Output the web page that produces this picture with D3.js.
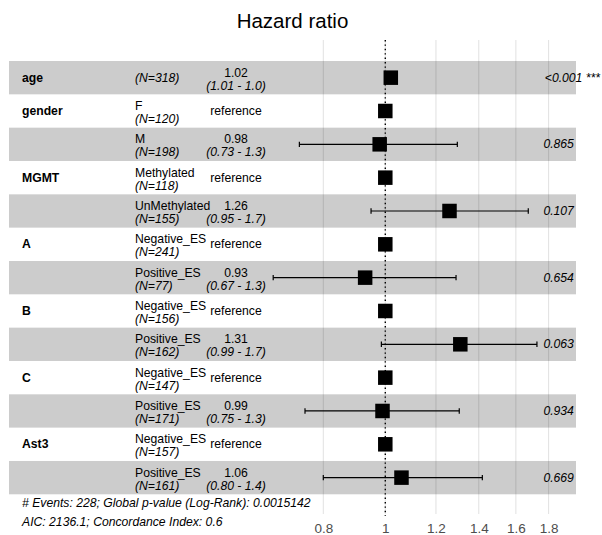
<!DOCTYPE html>
<html>
<head>
<meta charset="utf-8">
<script src="https://cdn.jsdelivr.net/npm/d3@7"></script>
<style>
  body { margin: 0; background: #fff; }
  text { font-family: "Liberation Sans", Arial, sans-serif; }
</style>
</head>
<body>
<svg id="chart" width="602" height="535"></svg>
<script>
// Cox model summary: one entry per table row
const variables = ["age", "gender", "", "MGMT", "", "A", "", "B", "", "C", "", "Ast3", ""];
const levels = ["", "F", "M", "Methylated", "UnMethylated", "Negative_ES", "Positive_ES",
                "Negative_ES", "Positive_ES", "Negative_ES", "Positive_ES", "Negative_ES", "Positive_ES"];
const counts = [318, 120, 198, 118, 155, 241, 77, 156, 162, 147, 171, 157, 161];
const hazardRatios = [1.02, 1, 0.98, 1, 1.26, 1, 0.93, 1, 1.31, 1, 0.99, 1, 1.06];
const ciLower = [1.01, null, 0.734, null, 0.95, null, 0.668, null, 0.986, null, 0.749, null, 0.80];
const ciUpper = [1.03, null, 1.296, null, 1.673, null, 1.29, null, 1.726, null, 1.305, null, 1.418];
const pLabels = ["<0.001 ***", "", "0.865", "", "0.107", "", "0.654", "", "0.063", "", "0.934", "", "0.669"];
const tickValues = [0.8, 1, 1.2, 1.4, 1.6, 1.8];
const footnotes = ["# Events: 228; Global p-value (Log-Rank): 0.0015142",
                   "AIC: 2136.1; Concordance Index: 0.6"];

const rows = variables.map((v, i) => ({
  i, variable: v, level: levels[i], n: counts[i], hr: hazardRatios[i],
  lo: ciLower[i], hi: ciUpper[i], p: pLabels[i]
}));

const svg = d3.select("#chart");
const W = 602;
const panel = { left: 9, right: 576, top: 40, bottom: 514 };

const x = d3.scaleLog().domain([0.8, 1.8]).range([323.3, 548.6]);
const y = d3.scaleBand().domain(d3.range(rows.length)).range([61, 494.3]).padding(0);
const cy = i => y(i) + y.bandwidth() / 2;

// title
svg.append("text")
  .attr("x", (panel.left + panel.right) / 2).attr("y", 28)
  .attr("text-anchor", "middle").attr("font-size", 20.5).attr("fill", "#000")
  .text("Hazard ratio");

// vertical grid
svg.append("g").selectAll("line").data(tickValues).join("line")
  .attr("x1", d => x(d)).attr("x2", d => x(d))
  .attr("y1", panel.top).attr("y2", panel.bottom)
  .attr("stroke", "#dedede").attr("stroke-width", 0.9);

// alternating row bands
svg.append("g").selectAll("rect").data(rows.filter(r => r.i % 2 === 0)).join("rect")
  .attr("x", panel.left).attr("width", panel.right - panel.left)
  .attr("y", d => y(d.i)).attr("height", y.bandwidth())
  .attr("fill", "rgba(0,0,0,0.2)");

// reference line at HR = 1
svg.append("line")
  .attr("x1", x(1)).attr("x2", x(1)).attr("y1", panel.top).attr("y2", panel.bottom + 2)
  .attr("stroke", "#000").attr("stroke-width", 1.4).attr("stroke-dasharray", "1.4,3");

// confidence intervals
const ci = svg.append("g").attr("stroke", "#000").attr("stroke-width", 1.2);
rows.filter(r => r.lo != null).forEach(r => {
  const a = x(Math.min(r.lo, r.hi)), b = x(Math.max(r.lo, r.hi)), c = cy(r.i);
  ci.append("line").attr("x1", a).attr("x2", b).attr("y1", c).attr("y2", c);
  ci.append("line").attr("x1", a).attr("x2", a).attr("y1", c - 2.7).attr("y2", c + 2.7);
  ci.append("line").attr("x1", b).attr("x2", b).attr("y1", c - 2.7).attr("y2", c + 2.7);
});

// point estimates
const sq = 14.5;
svg.append("g").selectAll("rect").data(rows).join("rect")
  .attr("x", d => x(d.hr) - sq / 2).attr("y", d => cy(d.i) - sq / 2)
  .attr("width", sq).attr("height", sq).attr("fill", "#000");

// x axis
const axis = svg.append("g").attr("transform", `translate(0,${panel.bottom})`)
  .call(d3.axisBottom(x).tickValues(tickValues).tickFormat(d3.format("~g")).tickSize(0).tickPadding(9.5));
axis.select(".domain").remove();
axis.selectAll("text").attr("font-size", 13.5).attr("fill", "#4d4d4d")
  .attr("font-family", "'Liberation Sans', Arial, sans-serif");

// table text
const fs = 12.2;
const tbl = svg.append("g").attr("font-size", fs).attr("fill", "#000");

tbl.selectAll(".var").data(rows.filter(r => r.variable)).join("text")
  .attr("class", "var").attr("x", 22).attr("y", d => cy(d.i) + 4)
  .attr("font-weight", "bold").text(d => d.variable);

tbl.selectAll(".lvl").data(rows.filter(r => r.level)).join("text")
  .attr("class", "lvl").attr("x", 135).attr("y", d => cy(d.i) - 1)
  .text(d => d.level);

tbl.selectAll(".n").data(rows).join("text")
  .attr("class", "n").attr("x", 135)
  .attr("y", d => d.level ? cy(d.i) + 12 : cy(d.i) + 4)
  .attr("font-style", "italic").text(d => `(N=${d.n})`);

const isRef = d => d.lo == null;
tbl.selectAll(".est").data(rows).join("text")
  .attr("class", "est").attr("x", 236).attr("text-anchor", "middle")
  .attr("y", d => isRef(d) ? cy(d.i) + 4 : cy(d.i) - 1)
  .text(d => isRef(d) ? "reference" : d.hr.toFixed(2));

tbl.selectAll(".ci").data(rows.filter(r => !isRef(r))).join("text")
  .attr("class", "ci").attr("x", 236).attr("text-anchor", "middle")
  .attr("y", d => cy(d.i) + 12).attr("font-style", "italic")
  .text(d => `(${d.lo.toFixed(2)} - ${d.hi.toPrecision(2)})`);

// p-values, placed with a left offset of 20% of their own width,
// kept inside the drawing area
tbl.selectAll(".p").data(rows.filter(r => r.p)).join("text")
  .attr("class", "p").attr("y", d => cy(d.i) + 4).attr("font-style", "italic")
  .text(d => d.p)
  .attr("x", function () {
    const w = this.getComputedTextLength();
    return Math.min(537.3 + 0.2 * w, W - 2 - w);
  });

// model footnotes
svg.append("g").attr("font-size", fs).attr("font-style", "italic").attr("fill", "#000")
  .selectAll("text").data(footnotes).join("text")
  .attr("x", 22).attr("y", (d, i) => 507 + i * 19).text(d => d);
</script>
</body>
</html>
